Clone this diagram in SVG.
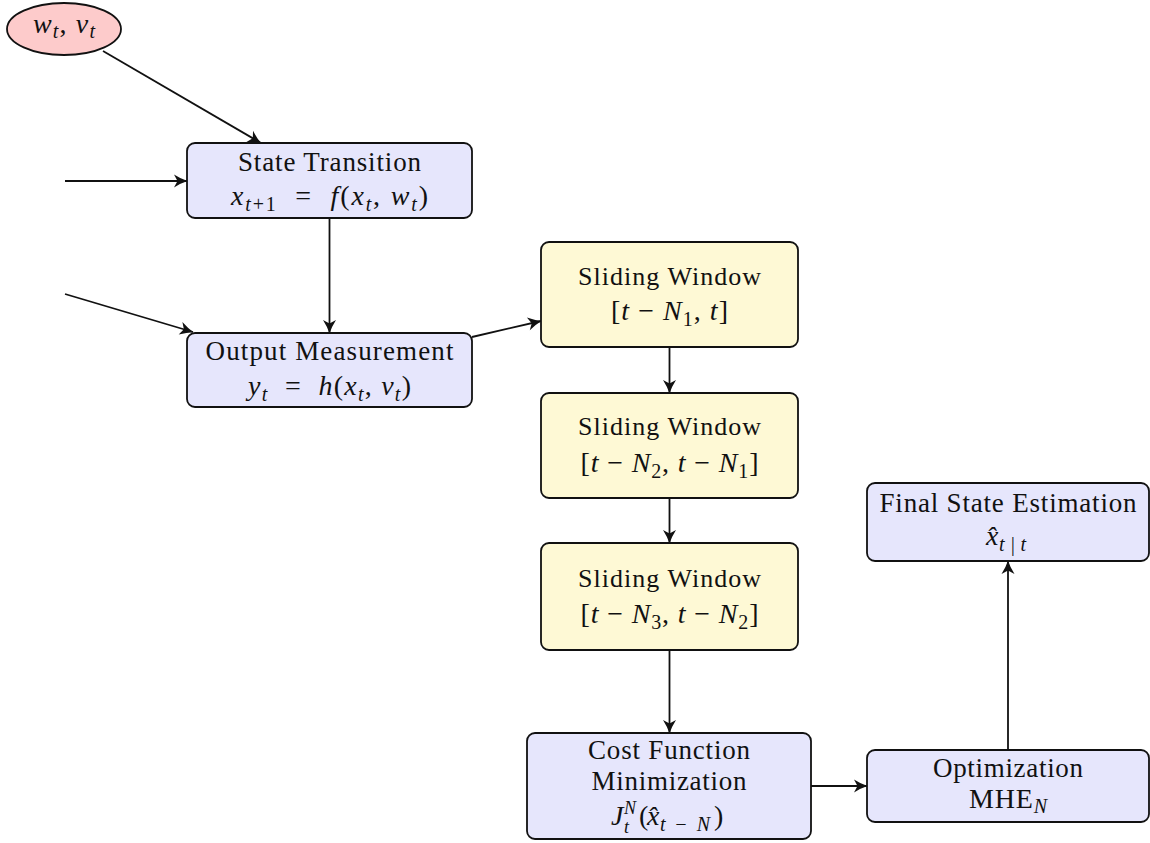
<svg xmlns="http://www.w3.org/2000/svg" width="1150" height="843" viewBox="0 0 1150 843">
  <style>
    .box { stroke: #111; stroke-width: 1.8; }
    .blue { fill: #E6E6FC; }
    .yellow { fill: #FEF9D5; }
    .red { fill: #FDCBCB; }
    text { font-family: "Liberation Serif", "DejaVu Serif", serif; font-size: 27px; fill: #111; }
    .m { font-size: 28px; white-space: pre; }
    .sw { font-size: 26px; }
    .i { font-style: italic; }
    .s { font-size: 20px; }
    .ss { font-size: 18px; }
    .edge { fill: none; stroke: #111; stroke-width: 1.8; }
  </style>
  <defs>
    <marker id="arrow" markerUnits="userSpaceOnUse" viewBox="-14 -8 16 16" markerWidth="16" markerHeight="16" refX="0" refY="0" orient="auto">
      <path d="M0.5,0 Q-6,-2 -13,-6.5 L-9.5,0 L-13,6.5 Q-6,2 0.5,0 Z" fill="#111"/>
    </marker>
  </defs>

  <!-- connectors -->
  <g id="edges">
    <path class="edge" d="M103,51 L261,143" marker-end="url(#arrow)"/>
    <path class="edge" d="M65,181 L187,181" marker-end="url(#arrow)"/>
    <path class="edge" d="M65,294 L193,332" marker-end="url(#arrow)"/>
    <path class="edge" d="M329.5,218 L329.5,333" marker-end="url(#arrow)"/>
    <path class="edge" d="M472,337 L541,321" marker-end="url(#arrow)"/>
    <path class="edge" d="M669.5,347 L669.5,393" marker-end="url(#arrow)"/>
    <path class="edge" d="M669.5,498 L669.5,543" marker-end="url(#arrow)"/>
    <path class="edge" d="M669.5,650 L669.5,733" marker-end="url(#arrow)"/>
    <path class="edge" d="M811,786 L867,786" marker-end="url(#arrow)"/>
    <path class="edge" d="M1008,750 L1008,561" marker-end="url(#arrow)"/>
  </g>

  <!-- noise input -->
  <g id="noise">
    <ellipse class="box red" cx="64" cy="29" rx="57" ry="26"/>
    <text class="m" x="64" y="33" text-anchor="middle" textLength="62" lengthAdjust="spacing"><tspan class="i">w</tspan><tspan class="s i" dy="5">t</tspan><tspan dy="-5">, </tspan><tspan class="i">v</tspan><tspan class="s i" dy="5">t</tspan></text>
  </g>

  <!-- state transition -->
  <g id="state-transition">
    <rect class="box blue" x="187" y="143" width="285" height="75" rx="8"/>
    <text x="329.5" y="171" text-anchor="middle" textLength="183" lengthAdjust="spacing">State Transition</text>
    <text class="m" x="329.5" y="205" text-anchor="middle" textLength="197" lengthAdjust="spacing"><tspan class="i">x</tspan><tspan class="s" dy="6"><tspan class="i">t</tspan>+1</tspan><tspan dy="-6">  =  </tspan><tspan class="i">f</tspan>(<tspan class="i">x</tspan><tspan class="s i" dy="6">t</tspan><tspan dy="-6">, </tspan><tspan class="i">w</tspan><tspan class="s i" dy="6">t</tspan><tspan dy="-6">)</tspan></text>
  </g>

  <!-- output measurement -->
  <g id="output-measurement">
    <rect class="box blue" x="187" y="333" width="285" height="74" rx="8"/>
    <text x="329.5" y="360" text-anchor="middle" textLength="248" lengthAdjust="spacing">Output Measurement</text>
    <text class="m" x="329.5" y="395" text-anchor="middle" textLength="163" lengthAdjust="spacing"><tspan class="i">y</tspan><tspan class="s i" dy="6">t</tspan><tspan dy="-6">  =  </tspan><tspan class="i">h</tspan>(<tspan class="i">x</tspan><tspan class="s i" dy="6">t</tspan><tspan dy="-6">, </tspan><tspan class="i">v</tspan><tspan class="s i" dy="6">t</tspan><tspan dy="-6">)</tspan></text>
  </g>

  <!-- sliding windows -->
  <g id="window-1">
    <rect class="box yellow" x="541" y="242" width="257" height="105" rx="8"/>
    <text class="sw" x="669.5" y="285" text-anchor="middle" textLength="183" lengthAdjust="spacing">Sliding Window</text>
    <text class="m" x="669.5" y="320" text-anchor="middle" textLength="117" lengthAdjust="spacing">[<tspan class="i">t</tspan> − <tspan class="i">N</tspan><tspan class="s" dy="6">1</tspan><tspan dy="-6">, </tspan><tspan class="i">t</tspan>]</text>
  </g>
  <g id="window-2">
    <rect class="box yellow" x="541" y="393" width="257" height="105" rx="8"/>
    <text class="sw" x="669.5" y="435" text-anchor="middle" textLength="183" lengthAdjust="spacing">Sliding Window</text>
    <text class="m" x="669.5" y="472" text-anchor="middle" textLength="178" lengthAdjust="spacing">[<tspan class="i">t</tspan> − <tspan class="i">N</tspan><tspan class="s" dy="6">2</tspan><tspan dy="-6">, </tspan><tspan class="i">t</tspan> − <tspan class="i">N</tspan><tspan class="s" dy="6">1</tspan><tspan dy="-6">]</tspan></text>
  </g>
  <g id="window-3">
    <rect class="box yellow" x="541" y="543" width="257" height="107" rx="8"/>
    <text class="sw" x="669.5" y="587" text-anchor="middle" textLength="183" lengthAdjust="spacing">Sliding Window</text>
    <text class="m" x="669.5" y="623" text-anchor="middle" textLength="178" lengthAdjust="spacing">[<tspan class="i">t</tspan> − <tspan class="i">N</tspan><tspan class="s" dy="6">3</tspan><tspan dy="-6">, </tspan><tspan class="i">t</tspan> − <tspan class="i">N</tspan><tspan class="s" dy="6">2</tspan><tspan dy="-6">]</tspan></text>
  </g>

  <!-- cost function -->
  <g id="cost-function">
    <rect class="box blue" x="527" y="733" width="284" height="106" rx="8"/>
    <text x="669" y="759" text-anchor="middle" textLength="162" lengthAdjust="spacing">Cost Function</text>
    <text x="669" y="790" text-anchor="middle" textLength="155" lengthAdjust="spacing">Minimization</text>
    <text class="m"><tspan class="i" x="611" y="825">J</tspan><tspan class="ss i" x="624" y="814">N</tspan><tspan class="ss i" x="624" y="833">t</tspan><tspan x="639" y="825">(</tspan><tspan class="i" x="647" y="825">x̂</tspan><tspan class="s i" x="660" y="831" textLength="50" lengthAdjust="spacing">t−N</tspan><tspan x="714" y="825">)</tspan></text>
  </g>

  <!-- optimization -->
  <g id="optimization">
    <rect class="box blue" x="867" y="750" width="282" height="72" rx="8"/>
    <text x="1008" y="777" text-anchor="middle" textLength="150" lengthAdjust="spacing">Optimization</text>
    <text class="m" x="1008" y="808" text-anchor="middle" textLength="78" lengthAdjust="spacing">MHE<tspan class="s i" dy="5">N</tspan></text>
  </g>

  <!-- final estimate -->
  <g id="final-estimate">
    <rect class="box blue" x="867" y="483" width="282" height="78" rx="8"/>
    <text x="1008" y="512" text-anchor="middle" textLength="257" lengthAdjust="spacing">Final State Estimation</text>
    <text class="m"><tspan class="i" x="986" y="545">x̂</tspan><tspan class="s i" x="999" y="551" textLength="27" lengthAdjust="spacing">t|t</tspan></text>
  </g>
</svg>
